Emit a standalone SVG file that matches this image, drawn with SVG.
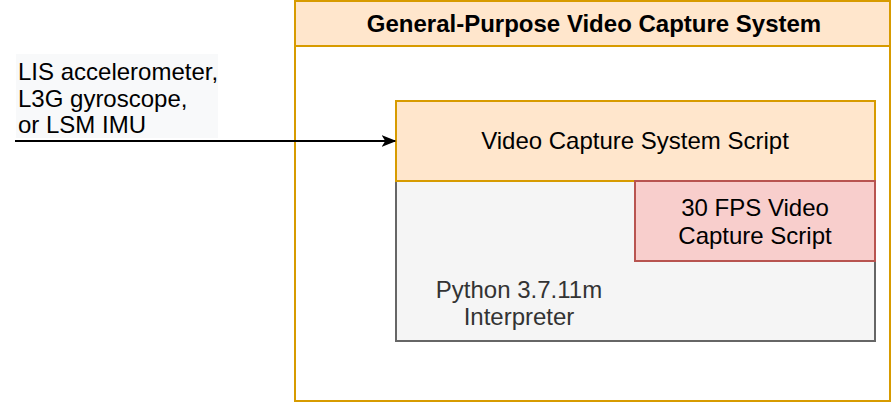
<svg xmlns="http://www.w3.org/2000/svg" width="896" height="404" viewBox="0 0 896 404">
<defs>
<style>
text{font-family:"Liberation Sans",Arial,Helvetica,sans-serif;font-size:24px;fill:#000}
.orange{fill:#ffe6cc;stroke:#d79b00;stroke-width:2}
.red{fill:#f8cecc;stroke:#b85450;stroke-width:2}
.grey{fill:#f5f5f5;stroke:#666666;stroke-width:2}
.c{text-anchor:middle}
</style>
<marker id="arr" viewBox="0 0 10 10" refX="9" refY="5" markerWidth="15" markerHeight="15" markerUnits="userSpaceOnUse" orient="auto">
<path d="M0,1 L10,5 L0,9 L2.5,5 Z" fill="#000"/>
</marker>
</defs>
<g id="outer">
<rect x="295" y="1" width="595" height="400" fill="#ffffff" stroke="#d79b00" stroke-width="2"/>
<rect x="295" y="1" width="595" height="45" class="orange"/>
<text x="594" y="32" class="c" font-weight="bold">General-Purpose Video Capture System</text>
</g>
<g id="python">
<rect x="396" y="181" width="479" height="160" class="grey"/>
<text x="519" y="298" class="c" style="fill:#333">Python 3.7.11m</text>
<text x="519" y="325" class="c" style="fill:#333">Interpreter</text>
</g>
<g id="vcs">
<rect x="396" y="101" width="479" height="80" class="orange"/>
<text x="635" y="149" class="c">Video Capture System Script</text>
</g>
<g id="fps">
<rect x="635" y="181" width="240" height="80" class="red"/>
<text x="755" y="216" class="c">30 FPS Video</text>
<text x="755" y="244" class="c">Capture Script</text>
</g>
<g id="connectors">
<rect x="16" y="54" width="202" height="84" fill="#f8f9fa"/>
<text x="18" y="80">LIS accelerometer,</text>
<text x="18" y="107">L3G gyroscope,</text>
<text x="18" y="133">or LSM IMU</text>
<line x1="15" y1="141" x2="395" y2="141" stroke="#000" stroke-width="2" marker-end="url(#arr)"/>
</g>
</svg>
